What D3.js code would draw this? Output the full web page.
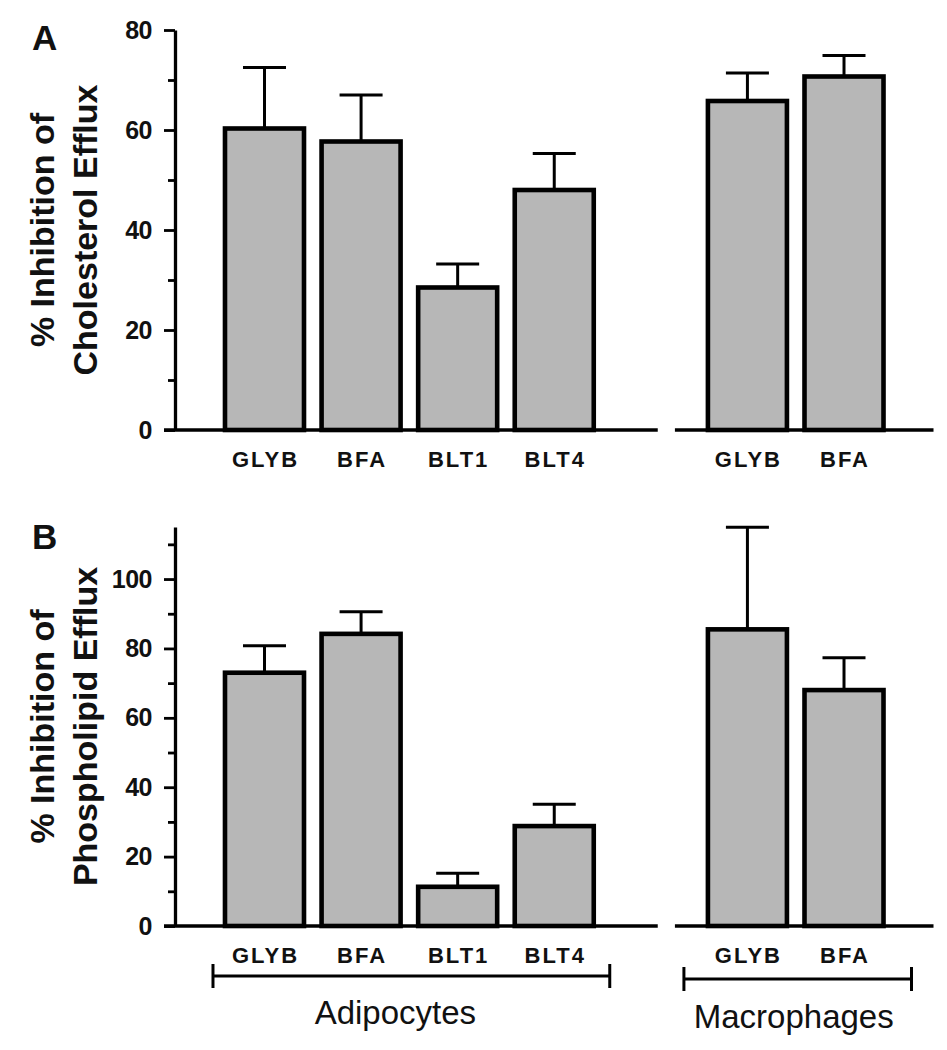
<!DOCTYPE html>
<html>
<head>
<meta charset="utf-8">
<script src="https://cdn.jsdelivr.net/npm/d3@7"></script>
<style>
  html, body { margin: 0; padding: 0; background: #fff; }
  svg { display: block; }
  text { font-family: "Liberation Sans", Arial, Helvetica, sans-serif; fill: #111; }
</style>
</head>
<body>
<svg id="chart" width="947" height="1050"></svg>
<script>
// ---------------- data ----------------
const adipocyteCats = ["GLYB", "BFA", "BLT1", "BLT4"];
const macrophageCats = ["GLYB", "BFA"];
const groupLabels = ["Adipocytes", "Macrophages"];

// Panel A: % inhibition of cholesterol efflux (adipocytes x4, macrophages x2)
const cholesterolMean = [60.3, 57.7, 28.5, 48.0, 65.8, 70.7];
const cholesterolSEM  = [12.2, 9.3, 4.7, 7.3, 5.6, 4.2];
const cholMajorTicks = [0, 20, 40, 60, 80];
const cholMinorTicks = [10, 30, 50, 70];

// Panel B: % inhibition of phospholipid efflux
const phospholipidMean = [73.0, 84.2, 11.3, 28.8, 85.5, 68.0];
const phospholipidSEM  = [7.8, 6.4, 3.9, 6.3, 29.4, 9.3];
const phosMajorTicks = [0, 20, 40, 60, 80, 100];
const phosMinorTicks = [10, 30, 50, 70, 90, 110];

// ---------------- layout ----------------
const svg = d3.select("#chart");
const axisX = 175;
const slotKeys = adipocyteCats.map(c => "A_" + c).concat(["gap"], macrophageCats.map(c => "M_" + c));
const barKeys = adipocyteCats.map(c => "A_" + c).concat(macrophageCats.map(c => "M_" + c));
const barLabels = adipocyteCats.concat(macrophageCats);

const x = d3.scaleBand()
  .domain(slotKeys)
  .range([216.2, 892.3])
  .paddingInner(0.182)
  .paddingOuter(0.091);
const bw = x.bandwidth();

function drawPanel(opt) {
  const g = svg.append("g");
  const y = d3.scaleLinear().domain([0, opt.top]).range([opt.y0, opt.y1]);

  // y axis major
  const ax = g.append("g").attr("transform", `translate(${axisX},0)`)
    .call(d3.axisLeft(y).tickValues(opt.major).tickSize(11).tickSizeOuter(0).tickPadding(12).tickFormat(d3.format("d")));
  ax.select(".domain").attr("stroke", "#000").attr("stroke-width", 3.3);
  ax.selectAll(".tick line").attr("stroke", "#000").attr("stroke-width", 2.8);
  ax.selectAll(".tick text")
    .style("font-family", '"Liberation Sans", Arial, sans-serif')
    .style("font-weight", "bold").style("font-size", "25px").style("letter-spacing", "-0.5px").attr("fill", "#111");
  // y axis minor
  const axm = g.append("g").attr("transform", `translate(${axisX},0)`)
    .call(d3.axisLeft(y).tickValues(opt.minor).tickSize(7).tickSizeOuter(0).tickFormat(""));
  axm.select(".domain").remove();
  axm.selectAll(".tick line").attr("stroke", "#000").attr("stroke-width", 2.8);

  // x baselines (two segments)
  const lastA = x("A_" + adipocyteCats[adipocyteCats.length - 1]) + bw;
  const firstM = x("M_" + macrophageCats[0]);
  const lastM = x("M_" + macrophageCats[macrophageCats.length - 1]) + bw;
  const segs = [[axisX - 11, lastA + 64], [firstM - 33, lastM + 50]];
  g.selectAll("line.base").data(segs).enter().append("line")
    .attr("x1", d => d[0]).attr("x2", d => d[1])
    .attr("y1", y(0)).attr("y2", y(0))
    .attr("stroke", "#000").attr("stroke-width", 3.3);

  const data = barKeys.map((k, i) => ({ key: k, label: barLabels[i], mean: opt.mean[i], sem: opt.sem[i] }));

  // error bars
  const eb = g.selectAll("g.err").data(data).enter().append("g");
  eb.append("line")
    .attr("x1", d => x(d.key) + bw / 2).attr("x2", d => x(d.key) + bw / 2)
    .attr("y1", d => y(d.mean)).attr("y2", d => y(d.mean + d.sem))
    .attr("stroke", "#000").attr("stroke-width", 3);
  eb.append("line")
    .attr("x1", d => x(d.key) + bw / 2 - 21.5).attr("x2", d => x(d.key) + bw / 2 + 21.5)
    .attr("y1", d => y(d.mean + d.sem)).attr("y2", d => y(d.mean + d.sem))
    .attr("stroke", "#000").attr("stroke-width", 3);

  // bars
  g.selectAll("rect.bar").data(data).enter().append("rect")
    .attr("x", d => x(d.key)).attr("width", bw)
    .attr("y", d => y(d.mean)).attr("height", d => y(0) - y(d.mean))
    .attr("fill", "#b7b7b7").attr("stroke", "#000").attr("stroke-width", 4.6)
    .attr("stroke-linejoin", "miter");

  // category labels
  g.selectAll("text.cat").data(data).enter().append("text")
    .attr("x", d => x(d.key) + bw / 2 + 1)
    .attr("y", y(0) + 37)
    .attr("text-anchor", "middle")
    .style("font-weight", "bold").style("font-size", "22px").style("letter-spacing", "2px")
    .text(d => d.label);

  // y title
  const cy = (y(0) + y(opt.top)) / 2;
  [[opt.title[0], 54], [opt.title[1], 97]].forEach(([t, bx]) => {
    g.append("text")
      .attr("transform", `translate(${bx},${cy}) rotate(-90)`)
      .attr("text-anchor", "middle")
      .style("font-weight", "bold").style("font-size", "34px")
      .text(t);
  });

  // panel letter
  g.append("text").attr("x", 32).attr("y", opt.letterY)
    .style("font-weight", "bold").style("font-size", "35px")
    .text(opt.letter);

  return { g, y };
}

drawPanel({
  top: 80, y0: 430, y1: 30,
  major: cholMajorTicks, minor: cholMinorTicks,
  mean: cholesterolMean, sem: cholesterolSEM,
  title: ["% Inhibition of", "Cholesterol Efflux"],
  letter: "A", letterY: 50
});

drawPanel({
  top: 115, y0: 926, y1: 527,
  major: phosMajorTicks, minor: phosMinorTicks,
  mean: phospholipidMean, sem: phospholipidSEM,
  title: ["% Inhibition of", "Phospholipid Efflux"],
  letter: "B", letterY: 549
});

// group brackets under panel B
const groups = [
  { label: groupLabels[0], x1: x("A_" + adipocyteCats[0]) - 12, x2: x("A_" + adipocyteCats[adipocyteCats.length - 1]) + bw + 16, y: 976, ty: 1024, dx: -16 },
  { label: groupLabels[1], x1: x("M_" + macrophageCats[0]) - 24, x2: x("M_" + macrophageCats[macrophageCats.length - 1]) + bw + 28, y: 979, ty: 1028, dx: -4 }
];
const br = svg.selectAll("g.bracket").data(groups).enter().append("g");
br.append("line").attr("x1", d => d.x1).attr("x2", d => d.x2).attr("y1", d => d.y).attr("y2", d => d.y)
  .attr("stroke", "#000").attr("stroke-width", 3);
br.append("line").attr("x1", d => d.x1).attr("x2", d => d.x1).attr("y1", d => d.y - 12).attr("y2", d => d.y + 12)
  .attr("stroke", "#000").attr("stroke-width", 3);
br.append("line").attr("x1", d => d.x2).attr("x2", d => d.x2).attr("y1", d => d.y - 12).attr("y2", d => d.y + 12)
  .attr("stroke", "#000").attr("stroke-width", 3);
br.append("text")
  .attr("x", d => (d.x1 + d.x2) / 2 + d.dx).attr("y", d => d.ty)
  .attr("text-anchor", "middle")
  .style("font-size", "33px")
  .text(d => d.label);
</script>
</body>
</html>
